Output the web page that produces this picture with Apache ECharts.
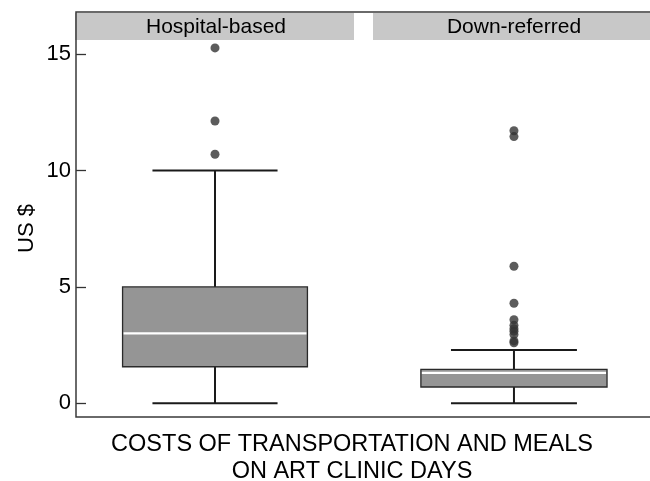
<!DOCTYPE html>
<html>
<head>
<meta charset="utf-8">
<script src="https://cdn.jsdelivr.net/npm/echarts@6/dist/echarts.min.js"></script>
<style>html,body{margin:0;padding:0;background:#fff;}#c{width:650px;height:481px;}</style>
</head>
<body>
<div id="c"></div>
<script>
// ---- data ----
const groups = ['Hospital-based', 'Down-referred'];
const lowerWhisker = [0, 0];
const q1 = [1.57, 0.70];
const median = [3.0, 1.31];
const q3 = [5.0, 1.46];
const upperWhisker = [10.0, 2.29];
const outliersHospital = [10.7, 12.13, 15.27];
const outliersDown = [2.6, 2.68, 2.95, 3.1, 3.2, 3.35, 3.59, 4.30, 5.89, 11.46, 11.71];
const yTicks = [0, 5, 10, 15];
const yTitle = 'US $';
const xTitle = 'COSTS OF TRANSPORTATION AND MEALS\nON ART CLINIC DAYS';

const FONT = '"Liberation Sans", Arial, Helvetica, sans-serif';
const chart = echarts.init(document.getElementById('c'), null, {renderer: 'canvas'});

// panel layout (second panel is cut off by the right edge of the picture)
const panels = [
  {left: 76, width: 278, xMin: -0.5, xMax: 0.5},
  {left: 374, width: 276, xMin: -0.5, xMax: 0.486}
];
const yMin = -0.59, yMax = 15.61;

function boxRender(params, api) {
  const x = api.value(0);
  const lo = api.value(1), a = api.value(2), m = api.value(3), b = api.value(4), hi = api.value(5);
  const bw = api.size([0.665, 0])[0], cw = api.size([0.45, 0])[0];
  const pLo = api.coord([x, lo]), pA = api.coord([x, a]), pM = api.coord([x, m]), pB = api.coord([x, b]), pHi = api.coord([x, hi]);
  const cx = pLo[0];
  const lineStyle = {stroke: '#1a1a1a', lineWidth: 2};
  return {
    type: 'group',
    children: [
      {type: 'line', shape: {x1: cx, y1: pHi[1], x2: cx, y2: pB[1]}, style: lineStyle},
      {type: 'line', shape: {x1: cx, y1: pA[1], x2: cx, y2: pLo[1]}, style: lineStyle},
      {type: 'line', shape: {x1: cx - cw / 2, y1: pHi[1], x2: cx + cw / 2, y2: pHi[1]}, style: lineStyle},
      {type: 'line', shape: {x1: cx - cw / 2, y1: pLo[1], x2: cx + cw / 2, y2: pLo[1]}, style: lineStyle},
      {type: 'rect', shape: {x: cx - bw / 2, y: pB[1], width: bw, height: pA[1] - pB[1]},
        style: {fill: '#959595', stroke: '#2a2a2a', lineWidth: 1.3}},
      {type: 'line', shape: {x1: cx - bw / 2 + 1, y1: pM[1], x2: cx + bw / 2 - 1, y2: pM[1]},
        style: {stroke: '#ffffff', lineWidth: 2.3}}
    ]
  };
}

const grids = panels.map(p => ({left: p.left, width: p.width, top: 40, height: 377}));
const xAxes = panels.map((p, i) => ({
  type: 'value', gridIndex: i, min: p.xMin, max: p.xMax,
  axisLine: {show: false, onZero: false}, axisTick: {show: false}, axisLabel: {show: false}, splitLine: {show: false}
}));
const yAxes = panels.map((p, i) => ({
  type: 'value', gridIndex: i, min: yMin, max: yMax, position: 'left',
  name: i === 0 ? yTitle : '', nameLocation: 'middle', nameGap: 38,
  nameTextStyle: {fontFamily: FONT, fontSize: 22, color: '#000'},
  axisLine: {show: false, onZero: false},
  axisTick: {show: i === 0, inside: true, length: 10, customValues: yTicks, lineStyle: {color: '#333', width: 1.3}},
  axisLabel: {show: i === 0, customValues: yTicks, margin: 5, fontFamily: FONT, fontSize: 22, color: '#000'},
  splitLine: {show: false}
}));

const series = [];
groups.forEach((g, i) => {
  series.push({
    type: 'custom', xAxisIndex: i, yAxisIndex: i,
    renderItem: boxRender,
    encode: {x: 0, y: [1, 2, 3, 4, 5]},
    data: [[0, lowerWhisker[i], q1[i], median[i], q3[i], upperWhisker[i]]],
    silent: true, animation: false
  });
});
[outliersHospital, outliersDown].forEach((arr, i) => {
  series.push({
    type: 'scatter', xAxisIndex: i, yAxisIndex: i, symbol: 'circle', symbolSize: 9,
    itemStyle: {color: '#333'},
    data: arr.map(v => [0, v]), silent: true, animation: false
  });
});

const graphic = [];
panels.forEach((p, i) => {
  graphic.push({type: 'rect', z: 1, shape: {x: p.left - 1, y: 13, width: p.width + 1, height: 27}, style: {fill: '#c8c8c8'}});
  graphic.push({type: 'text', z: 2, x: p.left + 140, y: 27,
    style: {text: groups[i], fontFamily: FONT, fontSize: 21, fill: '#000', align: 'center', verticalAlign: 'middle'}});
});
graphic.push({type: 'rect', z: 3, shape: {x: 76, y: 12, width: 600, height: 405},
  style: {fill: null, stroke: '#3a3a3a', lineWidth: 1.5}});
graphic.push({type: 'text', z: 2, x: 352, y: 431,
  style: {text: xTitle, fontFamily: FONT, fontSize: 23.5, lineHeight: 27, fill: '#000', align: 'center', verticalAlign: 'top'}});

chart.setOption({
  animation: false,
  backgroundColor: '#fff',
  grid: grids, xAxis: xAxes, yAxis: yAxes, series: series, graphic: graphic
});
</script>
</body>
</html>
